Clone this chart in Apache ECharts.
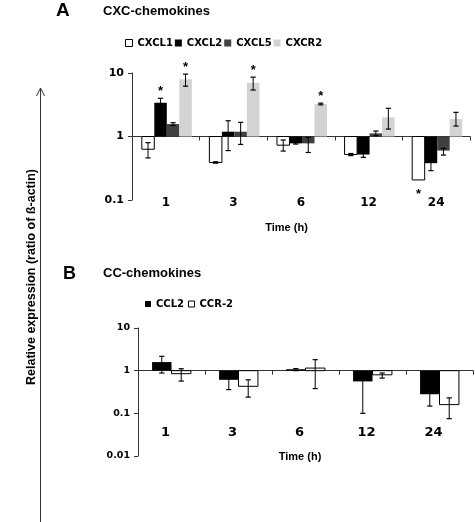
<!DOCTYPE html>
<html>
<head>
<meta charset="utf-8">
<script src="https://cdn.jsdelivr.net/npm/echarts@6/dist/echarts.min.js"></script>
<style>html,body{margin:0;padding:0;background:#fff}#c{width:475px;height:522px}</style>
</head>
<body>
<div id="c"></div>
<script>
// ---------- data ----------
const categories = ['1', '3', '6', '12', '24'];
const yTicksA = [0.1, 1, 10];
const yTicksB = [0.01, 0.1, 1, 10];

// Panel A: CXC-chemokines (value, lower error end, upper error end, significance)
const cxcl1 = [0.63, 0.39, 0.73, 0.52, 0.207];
const cxcl1Lo = [0.46, 0.38, 0.59, 0.50, 0.207];
const cxcl1Hi = [0.80, 0.40, 0.88, 0.54, 0.207];
const cxcl1Sig = [0, 0, 0, 0, 1];

const cxcl2 = [3.4, 1.19, 0.78, 0.52, 0.38];
const cxcl2Lo = [2.8, 0.60, 0.76, 0.47, 0.29];
const cxcl2Hi = [4.0, 1.77, 0.80, 0.57, 0.47];
const cxcl2Sig = [1, 0, 0, 0, 0];

const cxcl5 = [1.57, 1.19, 0.78, 1.12, 0.60];
const cxcl5Lo = [1.49, 0.75, 0.56, 1.03, 0.51];
const cxcl5Hi = [1.65, 1.67, 0.97, 1.22, 0.65];
const cxcl5Sig = [0, 0, 0, 0, 0];

const cxcr2 = [7.95, 7.0, 3.25, 2.0, 1.88];
const cxcr2Lo = [6.2, 5.4, 3.15, 1.31, 1.46];
const cxcr2Hi = [9.6, 8.6, 3.35, 2.78, 2.4];
const cxcr2Sig = [1, 1, 1, 0, 0];

// Panel B: CC-chemokines
const ccl2 = [1.59, 0.61, 1.08, 0.56, 0.28];
const ccl2Lo = [0.88, 0.36, 1.0, 0.10, 0.148];
const ccl2Hi = [2.17, 0.80, 1.12, 0.70, 0.40];
const ccl2Sig = [0, 0, 0, 0, 0];

const ccr2 = [0.85, 0.43, 1.15, 0.80, 0.16];
const ccr2Lo = [0.57, 0.24, 0.38, 0.67, 0.075];
const ccr2Hi = [1.11, 0.61, 1.81, 0.88, 0.23];
const ccr2Sig = [0, 0, 0, 0, 0];

// ---------- helpers ----------
function rows(v, lo, hi, sig) {
  return v.map((x, i) => [i, x, lo[i], hi[i], sig[i]]);
}

function makeRender(idx, nBars, frac, shift, fill, stroke) {
  return function (params, api) {
    const cat = api.value(0), v = api.value(1), lo = api.value(2), hi = api.value(3), sig = api.value(4);
    const band = api.size([1, 1])[0];
    const w = band * frac;
    const base = api.coord([cat, 1]);
    const x0 = base[0] - nBars * w / 2 + idx * w + shift;
    const yv = api.coord([cat, v])[1];
    const ylo = api.coord([cat, lo])[1];
    const yhi = api.coord([cat, hi])[1];
    const xm = x0 + w / 2;
    const cap = 2.6;
    const children = [{
      type: 'rect',
      shape: { x: x0, y: Math.min(base[1], yv), width: w, height: Math.abs(yv - base[1]) },
      style: { fill: fill, stroke: stroke, lineWidth: stroke ? 1 : 0 }
    }];
    if (Math.abs(ylo - yhi) > 0.5) {
      children.push(
        { type: 'line', shape: { x1: xm, y1: ylo, x2: xm, y2: yhi }, style: { stroke: '#000', lineWidth: 1 } },
        { type: 'line', shape: { x1: xm - cap, y1: ylo, x2: xm + cap, y2: ylo }, style: { stroke: '#000', lineWidth: 1.2 } },
        { type: 'line', shape: { x1: xm - cap, y1: yhi, x2: xm + cap, y2: yhi }, style: { stroke: '#000', lineWidth: 1.2 } }
      );
    }
    if (sig) {
      const up = v >= 1;
      const yc = up ? Math.min(yhi, yv) - 9.5 : Math.max(ylo, yv) + 11;
      children.push({
        type: 'text',
        style: { text: '*', x: xm, y: yc + 3, align: 'center', verticalAlign: 'middle',
          fontFamily: 'Liberation Sans, Arial', fontWeight: 'bold', fontSize: 13, fill: '#000' }
      });
    }
    return { type: 'group', children: children };
  };
}

function barSeries(name, data, axisIdx, idx, nBars, frac, shift, fill, stroke) {
  return {
    type: 'custom', name: name, xAxisIndex: axisIdx, yAxisIndex: axisIdx,
    itemStyle: { color: fill, borderColor: stroke || fill },
    encode: { x: 0, y: 1 },
    renderItem: makeRender(idx, nBars, frac, shift, fill, stroke),
    data: data, z: 3
  };
}

const axisCol = '#333';
function yAxisDef(grid, min, max, fs, ticks) {
  return {
    type: 'log', logBase: 10, gridIndex: grid, min: min, max: max,
    axisLine: { show: true, lineStyle: { color: axisCol, width: 1 } },
    axisTick: { show: true, length: 4, lineStyle: { color: axisCol } },
    minorTick: { show: false },
    splitLine: { show: false },
    axisLabel: { margin: 8, color: '#000', fontFamily: 'DejaVu Sans', fontWeight: 'bold', fontSize: fs,
      formatter: function (v) { const t = ticks.find(x => Math.abs(x - v) / x < 1e-6); return t === undefined ? '' : String(t); } }
  };
}
function xAxisDef(grid, offset, margin, fs, pad) {
  return {
    type: 'category', gridIndex: grid, data: categories, position: 'bottom', offset: offset,
    axisLine: { show: true, lineStyle: { color: axisCol, width: 1 } },
    axisTick: { show: true, length: 4, interval: 0, alignWithLabel: false, lineStyle: { color: axisCol } },
    splitLine: { show: false },
    axisLabel: { interval: 0, margin: margin, color: '#000', fontFamily: 'DejaVu Sans', fontWeight: 'bold', fontSize: fs, padding: pad }
  };
}

const legendText = { fontFamily: 'DejaVu Sans', fontWeight: 'bold', fontSize: 10, color: '#000' };

const option = {
  animation: false,
  backgroundColor: '#fff',
  grid: [
    { left: 132, top: 73, width: 338, height: 127 },
    { left: 138, top: 328, width: 335, height: 128 }
  ],
  xAxis: [
    xAxisDef(0, -63.5, 60, 12, [0, 0, 0, 0]),
    xAxisDef(1, -85.33, 55, 13, [0, 12, 0, 0])
  ],
  yAxis: [
    yAxisDef(0, 0.1, 10, 11, yTicksA),
    yAxisDef(1, 0.01, 10, 9.5, yTicksB)
  ],
  legend: [
    {
      left: 125, top: 38, padding: 0, itemGap: 2, itemWidth: 7, itemHeight: 7, icon: 'rect',
      textStyle: legendText, selectedMode: false,
      data: [
        { name: 'CXCL1', itemStyle: { color: '#fff', borderColor: '#000', borderWidth: 1 } },
        { name: 'CXCL2', itemStyle: { color: '#000', borderWidth: 0 } },
        { name: 'CXCL5', itemStyle: { color: '#404040', borderWidth: 0 } },
        { name: 'CXCR2', itemStyle: { color: '#d3d3d3', borderWidth: 0 } }
      ]
    },
    {
      left: 145, top: 299, padding: 0, itemGap: 4, itemWidth: 6, itemHeight: 6, icon: 'rect',
      textStyle: legendText, selectedMode: false,
      data: [
        { name: 'CCL2', itemStyle: { color: '#000', borderWidth: 0 } },
        { name: 'CCR-2', itemStyle: { color: '#fff', borderColor: '#000', borderWidth: 1 } }
      ]
    }
  ],
  series: [
    barSeries('CXCL1', rows(cxcl1, cxcl1Lo, cxcl1Hi, cxcl1Sig), 0, 0, 4, 0.185, 1, '#ffffff', '#000'),
    barSeries('CXCL2', rows(cxcl2, cxcl2Lo, cxcl2Hi, cxcl2Sig), 0, 1, 4, 0.185, 1, '#000000', null),
    barSeries('CXCL5', rows(cxcl5, cxcl5Lo, cxcl5Hi, cxcl5Sig), 0, 2, 4, 0.185, 1, '#404040', null),
    barSeries('CXCR2', rows(cxcr2, cxcr2Lo, cxcr2Hi, cxcr2Sig), 0, 3, 4, 0.185, 1, '#d3d3d3', null),
    barSeries('CCL2', rows(ccl2, ccl2Lo, ccl2Hi, ccl2Sig), 1, 0, 2, 0.29, 0, '#000000', null),
    barSeries('CCR-2', rows(ccr2, ccr2Lo, ccr2Hi, ccr2Sig), 1, 1, 2, 0.29, 0, '#ffffff', '#000')
  ],
  graphic: [
    { type: 'text', x: 56, y: 11, style: { text: 'A', fontFamily: 'Liberation Sans, Arial', fontWeight: 'bold', fontSize: 19, fill: '#000', verticalAlign: 'middle' } },
    { type: 'text', x: 103, y: 11, style: { text: 'CXC-chemokines', fontFamily: 'Liberation Sans, Arial', fontWeight: 'bold', fontSize: 13, fill: '#000', verticalAlign: 'middle' } },
    { type: 'text', x: 63, y: 274, style: { text: 'B', fontFamily: 'Liberation Sans, Arial', fontWeight: 'bold', fontSize: 18, fill: '#000', verticalAlign: 'middle' } },
    { type: 'text', x: 103, y: 273, style: { text: 'CC-chemokines', fontFamily: 'Liberation Sans, Arial', fontWeight: 'bold', fontSize: 13, fill: '#000', verticalAlign: 'middle' } },
    { type: 'text', x: 286.5, y: 228, style: { text: 'Time (h)', fontFamily: 'Liberation Sans, Arial', fontWeight: 'bold', fontSize: 11, fill: '#000', align: 'center', verticalAlign: 'middle' } },
    { type: 'text', x: 300, y: 457, style: { text: 'Time (h)', fontFamily: 'Liberation Sans, Arial', fontWeight: 'bold', fontSize: 11, fill: '#000', align: 'center', verticalAlign: 'middle' } },
    { type: 'text', x: 32, y: 277, rotation: Math.PI / 2, style: { text: 'Relative expression (ratio of ß-actin)', fontFamily: 'Liberation Sans, Arial', fontWeight: 'bold', fontSize: 12.5, fill: '#000', align: 'center', verticalAlign: 'middle' } },
    { type: 'line', shape: { x1: 40.5, y1: 522, x2: 40.5, y2: 88 }, style: { stroke: '#333', lineWidth: 1 } },
    { type: 'polyline', shape: { points: [[36.5, 96], [40.5, 88], [44.5, 96]] }, style: { stroke: '#333', lineWidth: 1, fill: null } }
  ]
};

const chart = echarts.init(document.getElementById('c'), null, { renderer: 'canvas' });
chart.setOption(option);
</script>
</body>
</html>
